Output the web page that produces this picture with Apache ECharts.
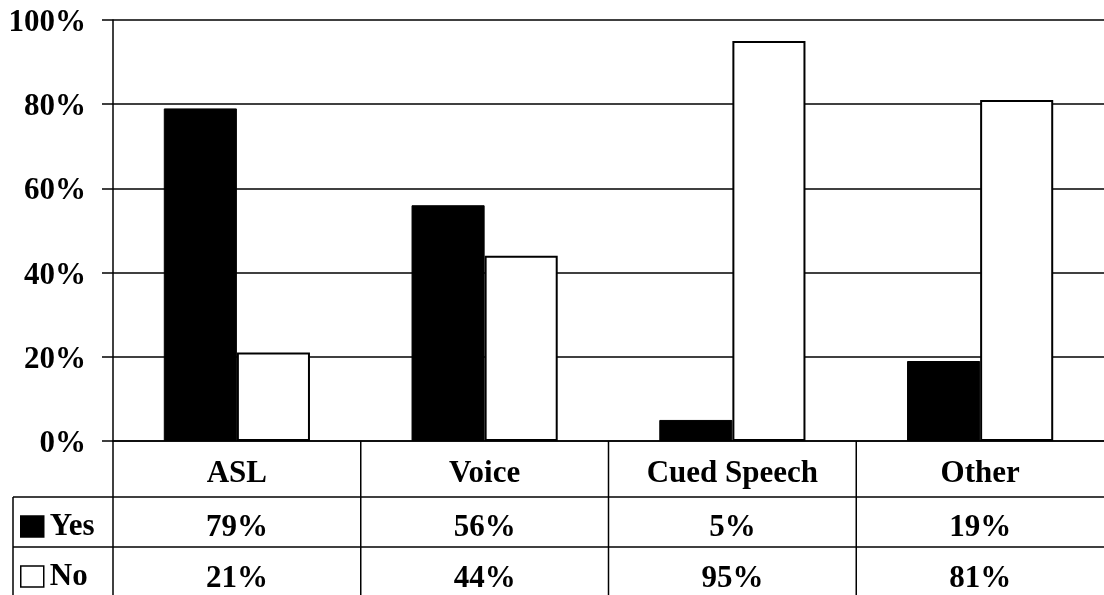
<!DOCTYPE html>
<html>
<head>
<meta charset="utf-8">
<style>
  html, body { margin: 0; padding: 0; background: #fff; }
  #chart { width: 1104px; height: 595px; }
</style>
<script src="https://cdn.jsdelivr.net/npm/echarts@6/dist/echarts.min.js"></script>
</head>
<body>
<div id="chart"></div>
<script>
// Communication modes and share of Yes / No answers (percent)
const categories = ['ASL', 'Voice', 'Cued Speech', 'Other'];
const yesValues = [79, 56, 5, 19];
const noValues = [21, 44, 95, 81];
const yTicks = [0, 20, 40, 60, 80, 100];

const FONT = '"Liberation Serif", "Times New Roman", serif';
const FS = 31;
const HEAD_H = 56;         // height of the category row of the data table
const ROW_H = 50;          // height of each value row
const LEGEND_COL = 100;    // width of the legend column left of the plot

const chart = echarts.init(document.getElementById('chart'), null, { renderer: 'canvas' });

function legendFor(name, top, fill) {
  return {
    orient: 'horizontal',
    left: 20,
    top: top,
    padding: 0,
    itemWidth: 23,
    itemHeight: 21,
    icon: 'rect',
    selectedMode: false,
    textStyle: { fontFamily: FONT, fontWeight: 'bold', fontSize: FS, color: '#000', padding: [4, 0, 0, 1] },
    data: [{ name: name, itemStyle: { color: fill, borderColor: '#000', borderWidth: 1.5 } }]
  };
}

const option = {
  animation: false,
  backgroundColor: '#fff',
  grid: { left: 113, right: 0, top: 20, bottom: 154, containLabel: false, outerBoundsMode: 'none' },
  legend: [legendFor('Yes', 511, '#000'), legendFor('No', 561, '#fff')],
  xAxis: {
    type: 'category',
    data: categories,
    axisLine: { show: true, lineStyle: { color: '#000', width: 1.5 } },
    axisTick: { show: false },
    splitLine: { show: false },
    axisLabel: {
      interval: 0,
      margin: 4,
      formatter: function (value, idx) {
        return '{c|' + value + '}\n{v|' + yesValues[idx] + '%}\n{v|' + noValues[idx] + '%}';
      },
      rich: {
        c: { fontFamily: FONT, fontWeight: 'bold', fontSize: FS, color: '#000', lineHeight: 57 },
        v: { fontFamily: FONT, fontWeight: 'bold', fontSize: FS, color: '#000', lineHeight: 51 }
      }
    }
  },
  yAxis: {
    type: 'value',
    min: 0,
    max: 100,
    interval: 20,
    axisLine: { show: true, lineStyle: { color: '#000', width: 1.5 } },
    axisTick: { show: true, length: 11, lineStyle: { color: '#000', width: 1.5 } },
    splitLine: { show: true, lineStyle: { color: '#000', width: 1.5 } },
    axisLabel: {
      margin: 27,
      formatter: function (v) { return yTicks.indexOf(v) >= 0 ? '{t|' + v + '%}' : ''; },
      rich: {
        t: { fontFamily: FONT, fontWeight: 'bold', fontSize: FS, color: '#000', padding: [6, 0, 0, 0] }
      }
    }
  },
  series: [
    {
      name: 'Yes',
      type: 'bar',
      data: yesValues,
      barGap: '0%',
      barCategoryGap: '41%',
      itemStyle: { color: '#000', borderColor: '#000', borderWidth: 1 }
    },
    {
      name: 'No',
      type: 'bar',
      data: noValues,
      barGap: '0%',
      barCategoryGap: '41%',
      itemStyle: { color: '#fff', borderColor: '#000', borderWidth: 2 }
    }
  ]
};

chart.setOption(option);

// Data-table grid lines under the plot, derived from the axes' pixel mapping
function drawTable() {
  const W = chart.getWidth();
  const H = chart.getHeight();
  const baseY = chart.convertToPixel({ yAxisIndex: 0 }, 0);
  const c0 = chart.convertToPixel({ xAxisIndex: 0 }, categories[0]);
  const c1 = chart.convertToPixel({ xAxisIndex: 0 }, categories[1]);
  const step = c1 - c0;
  const plotLeft = c0 - step / 2;
  const tableLeft = plotLeft - LEGEND_COL;
  const style = { stroke: '#000', lineWidth: 1.5 };
  const lines = [];

  // row separators
  [HEAD_H, HEAD_H + ROW_H].forEach(function (dy) {
    const y = baseY + dy;
    lines.push({ type: 'line', shape: { x1: tableLeft, y1: y, x2: W, y2: y }, style: style, silent: true });
  });
  // legend column border
  lines.push({ type: 'line', shape: { x1: tableLeft, y1: baseY + HEAD_H, x2: tableLeft, y2: H }, style: style, silent: true });
  // plot left edge continued down through the table
  lines.push({ type: 'line', shape: { x1: plotLeft, y1: baseY, x2: plotLeft, y2: H }, style: style, silent: true });
  // category column separators
  for (let i = 1; i < categories.length; i++) {
    const x = plotLeft + i * step;
    lines.push({ type: 'line', shape: { x1: x, y1: baseY, x2: x, y2: H }, style: style, silent: true });
  }
  chart.setOption({ graphic: { elements: lines } });
}
drawTable();
</script>
</body>
</html>
